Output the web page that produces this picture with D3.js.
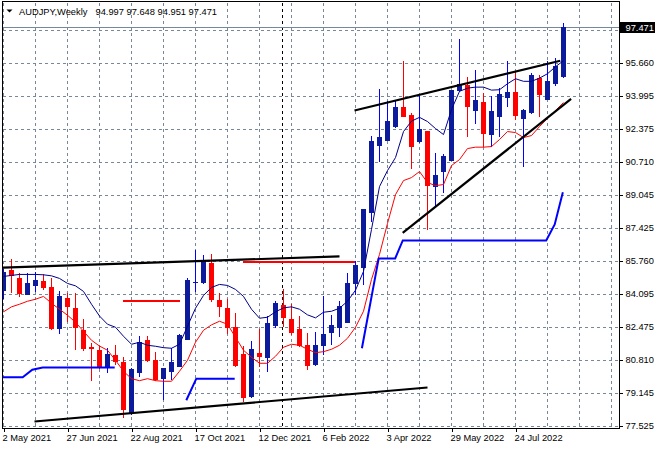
<!DOCTYPE html>
<html><head><meta charset="utf-8">
<script src="https://cdn.jsdelivr.net/npm/d3@7"></script>
<style>
body{margin:0;background:#fff}
svg{display:block;font-family:"Liberation Sans",Arial,sans-serif}
</style>
</head><body>
<svg id="chart" width="660" height="450"></svg>
<script>
// ---------- data ----------
const symbol = "AUDJPY,Weekly";
const dateLabels = ["2 May 2021","27 Jun 2021","22 Aug 2021","17 Oct 2021","12 Dec 2021","6 Feb 2022","3 Apr 2022","29 May 2022","24 Jul 2022"];
const dateLabelIndex = [0,8,16,24,32,40,48,56,64];
const priceTicks = [77.525,79.145,80.810,82.475,84.095,85.760,87.425,89.045,90.710,92.375,93.995,95.660,97.325];

const opens  = [84.31,85.31,84.89,84.13,84.56,84.74,84.48,82.41,83.89,83.43,82.30,81.45,81.30,80.44,81.05,80.69,78.14,80.22,81.80,80.80,79.89,80.27,80.52,81.88,84.69,84.73,85.68,83.80,83.43,82.46,81.10,78.99,81.14,80.94,82.55,83.55,82.88,82.35,81.55,80.60,81.57,82.21,82.46,82.73,84.68,85.48,88.22,91.54,91.83,92.49,93.44,93.07,91.74,92.24,89.50,90.25,90.83,94.29,94.54,93.29,93.72,92.11,92.99,93.94,94.23,92.91,93.19,94.91,93.88,94.66,94.997];
const highs  = [85.38,85.84,85.18,85.18,85.21,85.09,84.93,84.26,84.18,84.18,82.85,81.68,81.51,81.43,81.55,80.94,80.39,82.01,82.01,81.19,80.40,81.39,82.10,84.93,86.29,86.04,86.09,84.18,83.85,83.18,81.51,81.76,82.35,83.01,83.76,84.34,83.60,83.01,82.18,82.21,84.01,83.06,83.76,85.14,85.76,88.37,92.03,94.36,93.74,93.82,95.74,93.18,93.99,92.25,91.17,91.12,94.30,96.87,94.94,95.32,94.16,93.99,94.41,95.77,95.20,93.34,95.16,95.07,95.74,95.92,97.648];
const lows   = [83.93,84.21,84.01,84.10,84.26,84.34,82.35,82.18,82.76,81.35,81.32,79.82,80.42,80.19,80.60,77.94,78.11,79.99,80.78,79.82,78.86,79.85,80.49,81.85,84.26,84.68,83.76,83.01,82.18,80.49,78.77,78.96,80.49,80.27,82.48,82.51,82.10,81.51,80.35,80.55,81.10,81.60,82.01,82.70,84.10,84.59,87.75,90.75,91.81,92.47,93.00,90.42,91.72,87.34,88.50,89.20,90.80,94.27,91.99,92.66,91.50,91.50,91.99,93.49,92.86,90.53,93.17,93.03,93.86,94.57,94.951];
const closes = [85.21,85.06,84.18,84.68,84.79,84.46,82.40,84.03,83.51,82.48,81.40,81.42,80.44,81.09,80.77,78.36,80.35,81.73,80.80,79.85,80.39,80.69,82.05,84.79,84.73,85.76,83.88,83.51,82.46,80.55,78.94,81.35,81.02,82.68,83.65,82.96,82.21,81.56,80.55,81.55,82.13,82.55,83.51,84.68,85.54,88.34,91.78,91.94,92.74,93.44,93.03,91.49,92.38,89.58,90.08,91.03,94.29,94.61,93.53,93.83,92.16,93.24,94.11,94.21,93.08,93.33,95.07,94.12,94.77,95.49,97.471];

const maFast = [84.99,85.04,85.09,85.09,85.09,85.07,85.02,84.89,84.64,84.52,84.24,83.60,83.01,82.60,82.45,82.00,81.60,81.70,81.55,81.50,81.43,81.40,81.60,82.50,83.40,84.04,84.44,84.59,84.54,84.34,83.99,83.35,82.90,82.95,83.22,83.42,83.47,83.35,83.07,82.92,83.20,83.25,83.40,83.75,84.30,85.24,87.34,89.48,90.28,90.93,92.23,92.75,92.94,92.73,92.38,92.08,93.33,94.24,94.40,94.45,94.45,94.30,94.32,94.62,94.87,94.74,94.74,94.90,95.12,95.47,95.77];
const maSlow = [83.22,83.47,83.60,83.75,83.85,83.99,83.65,83.35,83.05,82.70,82.25,81.80,81.51,81.30,80.80,80.25,79.88,79.78,79.88,79.78,79.75,79.75,80.25,80.80,81.70,82.30,82.57,82.75,82.60,81.95,81.30,80.95,80.65,80.65,81.00,81.45,81.60,81.55,81.35,81.18,81.23,81.35,81.55,81.90,82.45,83.25,84.84,86.09,87.64,89.08,89.78,89.93,90.23,89.68,89.53,89.58,90.53,90.83,91.38,91.45,91.45,91.48,91.83,92.23,92.18,91.93,92.03,92.48,92.88,93.28,93.68];

// thick blue stop line pieces: [bar index, price]
const stopA = [[-0.4,79.95],[2.4,79.95],[3.6,80.33],[4.9,80.44],[13.9,80.44]];
const stopB = [[22.85,78.80],[24.1,79.88],[28.9,79.88]];
const stopC = [[44.8,81.40],[46.9,85.89],[48.96,85.89],[49.91,86.79],[67.84,86.79],[68.9,87.59],[69.92,89.20]];
// red resistance pieces: [from bar, to bar, price]
const resLevels = [[14.9,22.0,83.76],[29.9,43.9,85.71]];
// black trend lines: [[bar, price],[bar, price]]
const trendLines = [
  [[-0.4,85.43],[42.0,85.99]],
  [[3.875,77.74],[53.0,79.44]],
  [[43.875,93.28],[69.6,95.77]],
  [[49.9,87.17],[70.95,93.86]]
];
const yearSeparator = 34.9;
const bid = 97.471;

// ---------- layout ----------
const svg = d3.select("#chart");
const L = 2.5, R = 619.5, T = 1.5, B = 428.5;
const x = d3.scaleLinear().domain([0,70]).range([3.5,563.5]);
const y = d3.scaleLinear().domain([77.525,97.325]).range([425.8,29.6]);
const gridCol = "#778899";
const yp = v => Math.round(y(v)) + 0.5;

svg.append("defs").append("clipPath").attr("id","plot")
  .append("rect").attr("x",L+0.5).attr("y",T+0.5).attr("width",R-L-1).attr("height",B-T-1);

const grid = svg.append("g").attr("shape-rendering","crispEdges");
priceTicks.forEach(p => grid.append("line")
  .attr("x1",L+0.5).attr("x2",R-0.5).attr("y1",yp(p)).attr("y2",yp(p))
  .attr("stroke",gridCol).attr("stroke-dasharray","3,3"));
d3.range(0,77,4).forEach(i => grid.append("line")
  .attr("x1",x(i)).attr("x2",x(i)).attr("y1",T+1).attr("y2",B-0.5)
  .attr("stroke",gridCol).attr("stroke-dasharray","3,3"));
// year separator
grid.append("line").attr("x1",Math.round(x(yearSeparator))-0.5).attr("x2",Math.round(x(yearSeparator))-0.5)
  .attr("y1",T+1).attr("y2",B-0.5).attr("stroke","#000").attr("stroke-dasharray","3,3");

const plot = svg.append("g").attr("clip-path","url(#plot)");

// bid line
plot.append("line").attr("x1",L).attr("x2",R).attr("y1",yp(bid)).attr("y2",yp(bid))
  .attr("stroke",gridCol).attr("shape-rendering","crispEdges");

// candles
const bullBody = "#0c1a9c", bullWick = "#0000ff", bear = "#ff0000";
const cg = plot.append("g").attr("shape-rendering","crispEdges");
opens.forEach((o,i) => {
  const c = closes[i], up = c >= o;
  cg.append("line").attr("x1",x(i)).attr("x2",x(i))
    .attr("y1",Math.round(y(highs[i]))).attr("y2",Math.round(y(lows[i]))+1)
    .attr("stroke",up?bullWick:bear);
  const top = Math.round(y(Math.max(o,c))), bot = Math.round(y(Math.min(o,c)));
  cg.append("rect").attr("x",x(i)-2.5).attr("width",5)
    .attr("y",top).attr("height",Math.max(1,bot-top+1))
    .attr("fill",up?bullBody:bear);
});

// moving averages
const maLine = d3.line().x((d,i)=>x(i)).y(d=>y(d));
plot.append("path").attr("d",maLine(maSlow)).attr("fill","none").attr("stroke","#ff0000").attr("stroke-width",1);
plot.append("path").attr("d",maLine(maFast)).attr("fill","none").attr("stroke","#00008b").attr("stroke-width",1);

// red resistance segments
resLevels.forEach(([a,b,p]) => plot.append("line")
  .attr("x1",x(a)).attr("x2",x(b)).attr("y1",Math.round(y(p))).attr("y2",Math.round(y(p)))
  .attr("stroke","#ff0000").attr("stroke-width",2).attr("shape-rendering","crispEdges"));

// blue stop line pieces
const ptLine = d3.line().x(d=>x(d[0])).y(d=>y(d[1]));
[stopA,stopB,stopC].forEach(s => plot.append("path").attr("d",ptLine(s))
  .attr("fill","none").attr("stroke","#0000ff").attr("stroke-width",2));

// black trend lines
trendLines.forEach(t => plot.append("path").attr("d",ptLine(t))
  .attr("fill","none").attr("stroke","#000").attr("stroke-width",2.2));

// frame
svg.append("path").attr("d",`M${L},${B}V${T}H${R}V${B}H${L}`)
  .attr("fill","none").attr("stroke","#000").attr("shape-rendering","crispEdges");

// right axis (the top level label is covered by the bid label, as in the reference)
const bid_y = yp(bid);
const ya = svg.append("g").attr("transform",`translate(${R},0)`)
  .call(d3.axisRight(y).tickValues(priceTicks).tickSize(3).tickPadding(3).tickFormat(d3.format(".3f")));
ya.select(".domain").remove();
ya.selectAll(".tick").attr("transform",d=>`translate(0,${yp(d)})`);
ya.selectAll(".tick").filter(d => Math.abs(yp(d)-bid_y) < 11).select("text").remove();
ya.selectAll("text").attr("font-size",9.3).attr("font-family","'Liberation Sans',Arial,sans-serif").attr("fill","#000");
ya.selectAll("line").attr("stroke","#000").attr("shape-rendering","crispEdges");

// bid label
svg.append("rect").attr("x",R+0.5).attr("y",bid_y-5.5).attr("width",35).attr("height",11).attr("fill","#000");
svg.append("text").attr("x",R+6).attr("y",bid_y).attr("dy","0.35em").attr("fill","#fff")
  .attr("font-size",9.3).text(d3.format(".3f")(bid));

// bottom axis
const xa = svg.append("g").attr("transform",`translate(0,${B})`)
  .call(d3.axisBottom(x).tickValues(dateLabelIndex).tickSize(3).tickPadding(3).tickFormat((d,i)=>dateLabels[i]));
xa.select(".domain").remove();
xa.selectAll("text").attr("text-anchor","start").attr("x",-1.5)
  .attr("font-size",9.3).attr("font-family","'Liberation Sans',Arial,sans-serif").attr("fill","#000");
xa.selectAll("line").attr("stroke","#000").attr("shape-rendering","crispEdges");

// title
svg.append("path").attr("d","M6.5,9.5H12.5L9.5,12.5Z").attr("fill","#000");
svg.append("text").attr("x",19).attr("y",15).attr("font-size",9.3).attr("fill","#000").text(symbol);
const last = opens.length-1;
svg.append("text").attr("x",95.5).attr("y",15).attr("font-size",9.3).attr("fill","#000")
  .text([opens[last],highs[last],lows[last],closes[last]].map(d3.format(".3f")).join(" "));
</script>
</body></html>
